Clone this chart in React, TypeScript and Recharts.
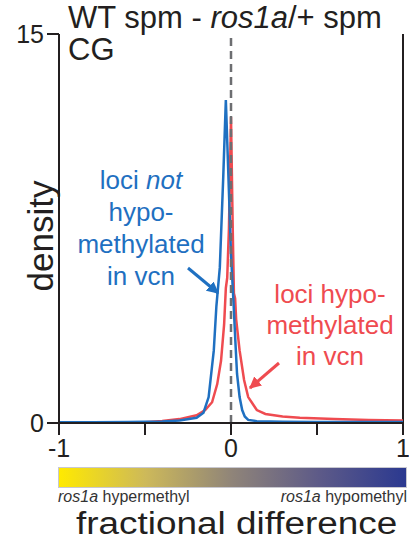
import { LineChart, Line, XAxis, YAxis, ReferenceLine } from 'recharts';

const FONT = '"Liberation Sans", Arial, sans-serif';
const INK = '#231f20';
const BLUE = '#1f70c1';
const RED = '#ef4b50';

// fractional difference (x) vs density (y)
const blueX = [-1, -0.8, -0.6, -0.4, -0.3, -0.2, -0.16, -0.13, -0.1, -0.085, -0.065, -0.045, -0.03, -0.02, -0.01, 0, 0.015, 0.025, 0.035, 0.05, 0.065, 0.08, 0.1, 0.15, 0.3, 0.5, 0.7, 1];
const blueY = [0.03, 0.03, 0.04, 0.06, 0.1, 0.2, 0.4, 1.0, 2.8, 4.5, 6.0, 9.5, 12.45, 10.5, 8.5, 6.5, 4.6, 3.2, 1.9, 1.0, 0.5, 0.25, 0.12, 0.07, 0.05, 0.04, 0.04, 0.04];

const redX = [-0.5, -0.4, -0.3, -0.2, -0.15, -0.11, -0.08, -0.058, -0.04, -0.03, -0.022, -0.012, 0, 0.01, 0.017, 0.024, 0.03, 0.05, 0.076, 0.1, 0.12, 0.15, 0.2, 0.3, 0.4, 0.6, 0.8, 1];
const redY = [0.03, 0.08, 0.15, 0.3, 0.5, 0.8, 1.5, 2.4, 3.8, 5.2, 5.6, 7.5, 11.8, 7.5, 5.0, 4.8, 4.0, 2.8, 1.66, 1.0, 0.8, 0.5, 0.35, 0.25, 0.2, 0.15, 0.12, 0.1];

const xTicks = [-1, -0.5, 0, 0.5, 1];
const xTickLabels: Record<string, string> = { '-1': '-1', '0': '0', '1': '1' };
const yTicks = [0, 15];

const blue = blueX.map((x, i) => ({ x, y: blueY[i] }));
const red = redX.map((x, i) => ({ x, y: redY[i] }));

const abs = (left: number, top: number) => ({ position: 'absolute' as const, left, top });

export default function App() {
  return (
    <div style={{ position: 'absolute', left: 0, top: 0, width: 409, height: 546, fontFamily: FONT, color: INK, background: '#fff' }}>
      <LineChart width={409} height={546} margin={{ top: 34, right: 6, bottom: 78, left: 0 }}>
        <XAxis
          type="number"
          dataKey="x"
          domain={[-1, 1]}
          ticks={xTicks}
          height={45}
          tickSize={12}
          tickMargin={2}
          interval={0}
          tickFormatter={(v) => xTickLabels[String(v)] ?? ''}
          tick={{ fill: INK, fontSize: 25, fontFamily: FONT, dy: 2 }}
          axisLine={{ stroke: INK, strokeWidth: 2 }}
          tickLine={{ stroke: INK, strokeWidth: 2 }}
        />
        <YAxis
          type="number"
          domain={[0, 15]}
          ticks={yTicks}
          width={59}
          tickSize={12}
          tickMargin={3}
          interval={0}
          tick={{ fill: INK, fontSize: 25, fontFamily: FONT }}
          axisLine={{ stroke: INK, strokeWidth: 2 }}
          tickLine={{ stroke: INK, strokeWidth: 2 }}
        />
        <ReferenceLine x={1} stroke={INK} strokeWidth={2} />
        <Line data={red} dataKey="y" stroke={RED} strokeWidth={2.5} dot={false} isAnimationActive={false} />
        <Line data={blue} dataKey="y" stroke={BLUE} strokeWidth={2.5} dot={false} isAnimationActive={false} />
        <ReferenceLine x={0} stroke="#6d6e71" strokeWidth={2.5} strokeDasharray="8 5" />
      </LineChart>

      <div style={{ ...abs(68, 2), fontSize: 31, lineHeight: '32px', whiteSpace: 'nowrap' }}>
        WT spm - <i>ros1a</i>/+ spm
      </div>
      <div style={{ ...abs(68, 34), fontSize: 31, lineHeight: '32px' }}>CG</div>

      <div style={{ ...abs(41, 236), transform: 'translate(-50%, -50%) rotate(-90deg)', fontSize: 35, lineHeight: '38px', whiteSpace: 'nowrap' }}>
        density
      </div>

      <div style={{ ...abs(61, 164), width: 160, textAlign: 'center', fontSize: 26, lineHeight: '32px', color: BLUE }}>
        loci <i>not</i>
        <br />hypo-
        <br />methylated
        <br />in vcn
      </div>
      <div style={{ ...abs(250, 279), width: 160, textAlign: 'center', fontSize: 26, lineHeight: '31px', color: RED }}>
        loci hypo-
        <br />methylated
        <br />in vcn
      </div>

      <svg width={409} height={546} style={{ ...abs(0, 0), pointerEvents: 'none' }}>
        <defs>
          <marker id="ab" viewBox="0 0 10 10" refX="9" refY="5" markerWidth="4" markerHeight="4" orient="auto">
            <path d="M0,0 L10,5 L0,10 z" fill={BLUE} />
          </marker>
          <marker id="ar" viewBox="0 0 10 10" refX="9" refY="5" markerWidth="4" markerHeight="4" orient="auto">
            <path d="M0,0 L10,5 L0,10 z" fill={RED} />
          </marker>
        </defs>
        <line x1={188} y1={268} x2={218} y2={293} stroke={BLUE} strokeWidth={3} markerEnd="url(#ab)" />
        <line x1={279} y1={363} x2={250} y2={388} stroke={RED} strokeWidth={3} markerEnd="url(#ar)" />
      </svg>

      <div
        style={{
          ...abs(58, 467),
          width: 349,
          height: 21,
          boxSizing: 'border-box',
          border: '1px solid #c8c8d0',
          background: 'linear-gradient(to right, #ffea00, #cdb95a 25%, #8f8479 50%, #5d5a88 75%, #2b3990)',
        }}
      />
      <div style={{ ...abs(58, 488), fontSize: 16, lineHeight: '18px', whiteSpace: 'nowrap', color: '#333' }}>
        <i>ros1a</i> hypermethyl
      </div>
      <div style={{ ...abs(200, 488), width: 207, textAlign: 'right', fontSize: 16, lineHeight: '18px', whiteSpace: 'nowrap', color: '#333' }}>
        <i>ros1a</i> hypomethyl
      </div>
      <div style={{ ...abs(76, 508), fontSize: 31, lineHeight: '32px', whiteSpace: 'nowrap', transform: 'scaleX(1.19)', transformOrigin: 'left top' }}>
        fractional difference
      </div>
    </div>
  );
}
